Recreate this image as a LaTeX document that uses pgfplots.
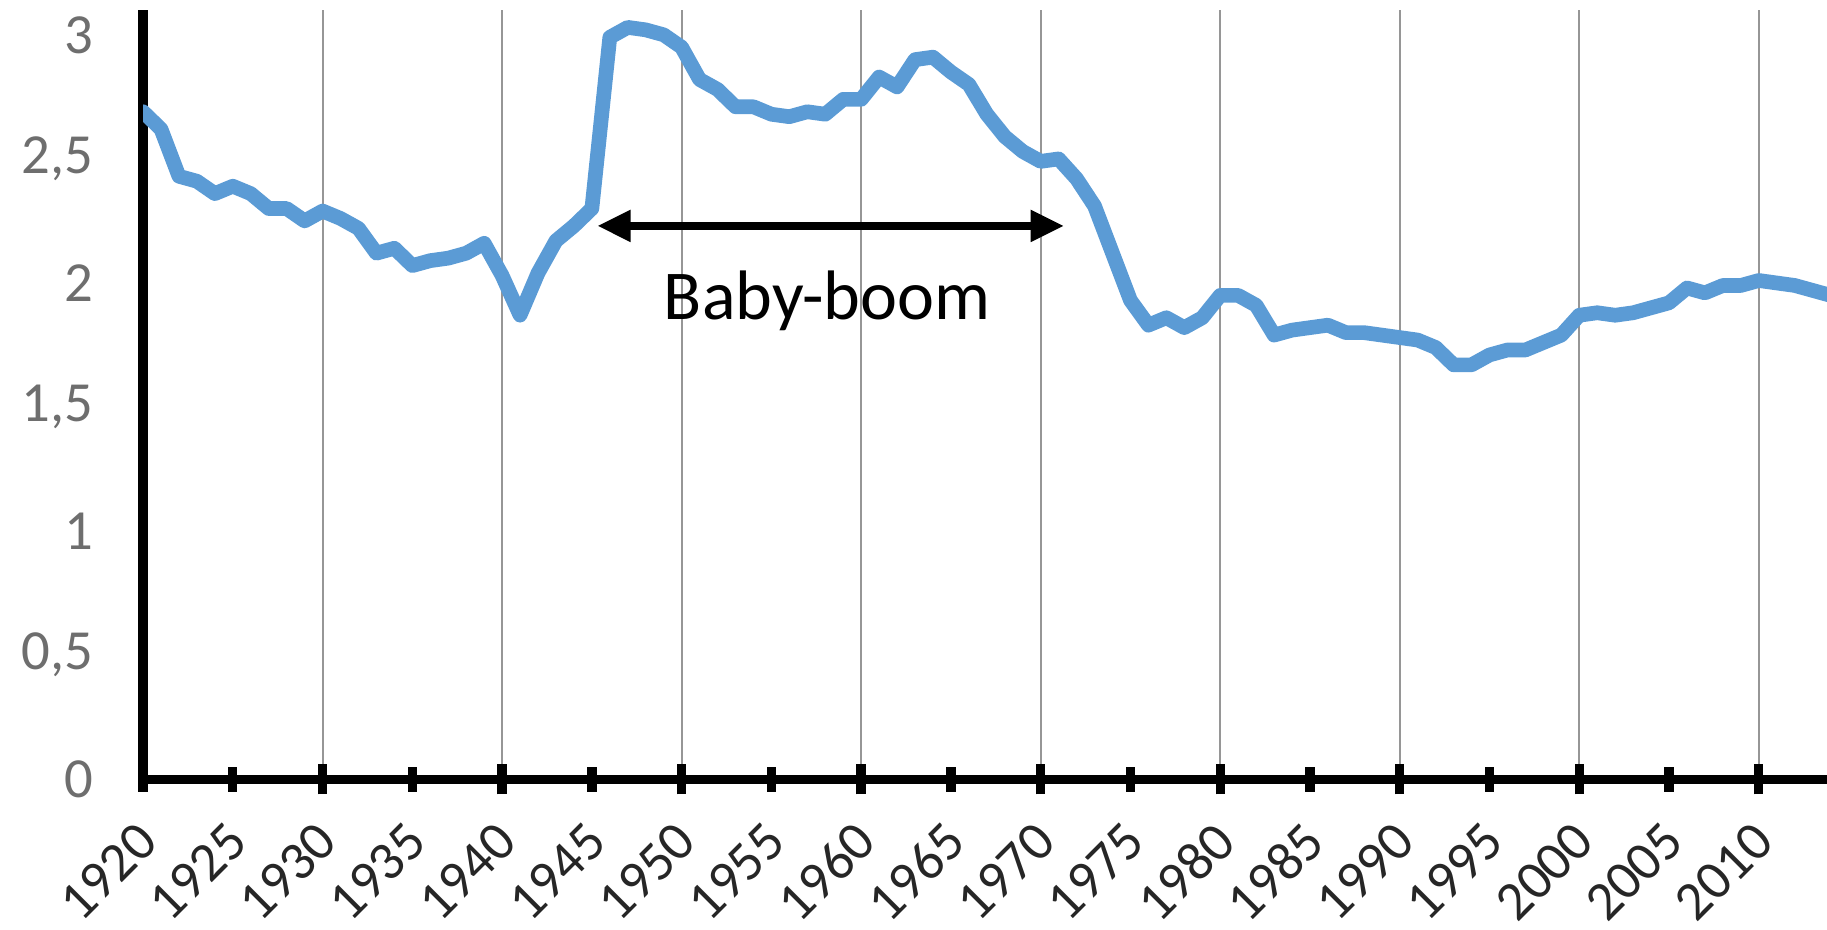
\documentclass[border=0pt]{standalone}
\usepackage{pgfplots}
\pgfplotsset{compat=1.18}
\usepackage{fontspec}
\setmainfont{Carlito}
\usetikzlibrary{arrows.meta}

\definecolor{lineblue}{RGB}{91,155,213}
\definecolor{ylab}{RGB}{110,110,110}
\definecolor{gridgray}{RGB}{150,150,150}

\pgfplotstableread{
year tfr
1920 2.69
1921 2.62
1922 2.43
1923 2.41
1924 2.36
1925 2.39
1926 2.36
1927 2.30
1928 2.30
1929 2.25
1930 2.29
1931 2.26
1932 2.22
1933 2.12
1934 2.14
1935 2.07
1936 2.09
1937 2.10
1938 2.12
1939 2.16
1940 2.03
1941 1.87
1942 2.04
1943 2.17
1944 2.23
1945 2.30
1946 2.99
1947 3.03
1948 3.02
1949 3.00
1950 2.95
1951 2.82
1952 2.78
1953 2.71
1954 2.71
1955 2.68
1956 2.67
1957 2.69
1958 2.68
1959 2.74
1960 2.74
1961 2.83
1962 2.79
1963 2.90
1964 2.91
1965 2.85
1966 2.80
1967 2.68
1968 2.59
1969 2.53
1970 2.49
1971 2.50
1972 2.42
1973 2.31
1974 2.12
1975 1.93
1976 1.83
1977 1.86
1978 1.82
1979 1.86
1980 1.95
1981 1.95
1982 1.91
1983 1.79
1984 1.81
1985 1.82
1986 1.83
1987 1.80
1988 1.80
1989 1.79
1990 1.78
1991 1.77
1992 1.74
1993 1.67
1994 1.67
1995 1.71
1996 1.73
1997 1.73
1998 1.76
1999 1.79
2000 1.87
2001 1.88
2002 1.87
2003 1.88
2004 1.90
2005 1.92
2006 1.98
2007 1.96
2008 1.99
2009 1.99
2010 2.01
2011 2.00
2012 1.99
2013 1.97
2014 1.95
}\tfrdata

\begin{document}
\begin{tikzpicture}
% fixed page size, origin = (1920,0)
\path[use as bounding box] (-42.9pt,-45pt) rectangle (505pt,233.7pt);
\begin{axis}[
    at={(0,0)}, anchor=south west,
    scale only axis,
    width=505pt, height=230.7pt,
    xmin=1920, xmax=2013.8,
    ymin=0, ymax=3.1,
    axis lines*=left,
    axis line style={line width=2.8pt, black},
    xtick={1920,1925,...,2010},
    ytick={0,0.5,...,3},
    tick align=center,
    major tick length=7.5pt,
    xtick style={line width=2.8pt, black},
    ytick style={draw=none},
    extra x ticks={1930,1940,...,2010},
    extra x tick labels={},
    extra x tick style={grid=major, major tick length=9pt,
        major grid style={line width=0.6pt, gridgray}},
    /pgf/number format/assume math mode=true,
    /pgf/number format/use comma,
    x tick label style={/pgf/number format/1000 sep={}, anchor=east,
        inner sep=0pt, xshift=1.5pt, yshift=-12pt, rotate=45,
        font=\fontsize{16.5}{16.5}\selectfont, black!85},
    yticklabel style={anchor=east, inner sep=0pt, xshift=-11pt,
        font=\fontsize{17}{17}\selectfont, ylab},
    clip=true,
]
\addplot[lineblue, line width=4.4pt, line join=round, line cap=round]
    table[x=year, y=tfr] {\tfrdata};

\draw[line width=2.4pt, {Triangle[length=10pt,width=9pt]}-{Triangle[length=10pt,width=9pt]}]
    (axis cs:1945.3,2.23) -- (axis cs:1971.3,2.23);
\node[font=\fontsize{21}{21}\selectfont, black] at (axis cs:1958.1,1.93) {Baby-boom};
\end{axis}
\end{tikzpicture}
\end{document}
